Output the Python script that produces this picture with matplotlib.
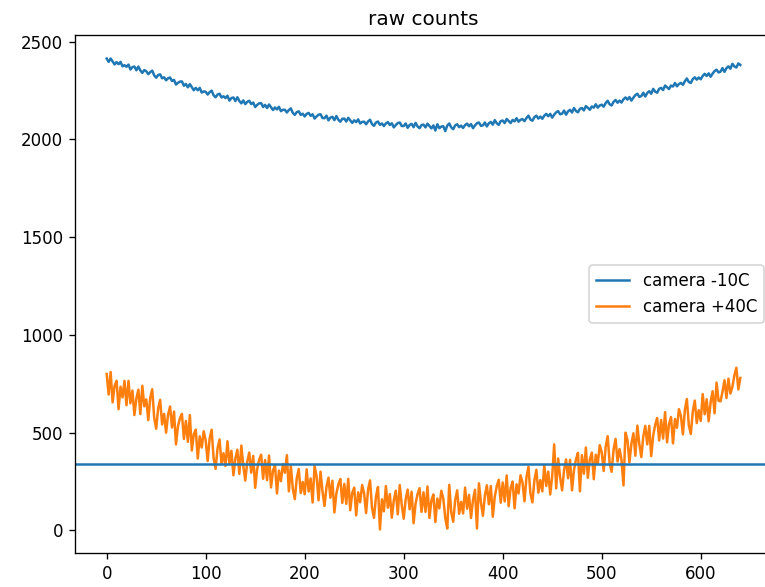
import numpy as np
import matplotlib.pyplot as plt

# pixel index along the sensor, sampled every 2
x = np.arange(0, 641, 2)

cold = [2413, 2396, 2413, 2398, 2383, 2395, 2384, 2396, 2373, 2379,
        2371, 2382, 2357, 2369, 2372, 2353, 2372, 2352, 2340, 2354,
        2348, 2333, 2344, 2351, 2327, 2315, 2329, 2332, 2312, 2317,
        2302, 2312, 2316, 2298, 2304, 2280, 2289, 2295, 2296, 2274,
        2283, 2266, 2282, 2267, 2251, 2263, 2251, 2263, 2239, 2245,
        2243, 2229, 2241, 2249, 2225, 2215, 2229, 2233, 2214, 2220,
        2211, 2223, 2198, 2211, 2214, 2196, 2215, 2196, 2184, 2199,
        2180, 2192, 2197, 2180, 2188, 2165, 2176, 2184, 2185, 2165,
        2176, 2160, 2178, 2164, 2150, 2163, 2153, 2166, 2144, 2151,
        2151, 2137, 2150, 2158, 2135, 2125, 2139, 2143, 2125, 2131,
        2117, 2130, 2135, 2120, 2128, 2106, 2117, 2126, 2128, 2109,
        2108, 2121, 2097, 2111, 2115, 2098, 2119, 2100, 2090, 2105,
        2106, 2091, 2110, 2097, 2084, 2097, 2088, 2102, 2081, 2089,
        2090, 2077, 2091, 2100, 2078, 2069, 2086, 2091, 2074, 2081,
        2068, 2081, 2088, 2073, 2082, 2061, 2073, 2083, 2086, 2068,
        2068, 2081, 2059, 2073, 2079, 2062, 2084, 2066, 2057, 2073,
        2075, 2061, 2080, 2068, 2056, 2071, 2045, 2077, 2057, 2065,
        2067, 2042, 2070, 2081, 2061, 2052, 2071, 2077, 2062, 2070,
        2058, 2073, 2080, 2067, 2078, 2057, 2071, 2082, 2086, 2069,
        2071, 2086, 2066, 2082, 2089, 2075, 2098, 2082, 2074, 2093,
        2096, 2083, 2104, 2094, 2083, 2099, 2092, 2108, 2090, 2100,
        2103, 2093, 2109, 2121, 2101, 2095, 2113, 2121, 2106, 2116,
        2105, 2121, 2130, 2118, 2130, 2111, 2126, 2138, 2144, 2128,
        2131, 2147, 2126, 2143, 2151, 2137, 2160, 2145, 2138, 2156,
        2160, 2148, 2170, 2161, 2151, 2168, 2162, 2179, 2162, 2173,
        2177, 2167, 2185, 2197, 2179, 2173, 2192, 2201, 2187, 2198,
        2188, 2205, 2214, 2203, 2216, 2198, 2213, 2226, 2233, 2217,
        2221, 2238, 2219, 2237, 2246, 2233, 2258, 2244, 2238, 2258,
        2263, 2252, 2275, 2266, 2257, 2275, 2270, 2288, 2271, 2283,
        2288, 2279, 2297, 2311, 2293, 2288, 2308, 2317, 2305, 2316,
        2307, 2324, 2335, 2324, 2337, 2320, 2336, 2349, 2356, 2342,
        2346, 2364, 2345, 2364, 2373, 2361, 2386, 2373, 2367, 2388,
        2380]

hot = [800, 695, 810, 655, 740, 765, 620, 735, 680, 765,
       640, 765, 650, 715, 590, 675, 720, 595, 740, 635,
       670, 564, 678, 722, 576, 520, 624, 668, 542, 596,
       500, 592, 634, 526, 608, 440, 532, 574, 596, 468,
       560, 453, 590, 409, 492, 515, 368, 481, 424, 507,
       460, 355, 470, 515, 370, 315, 420, 465, 340, 395,
       330, 456, 341, 407, 282, 368, 413, 289, 434, 330,
       255, 352, 398, 295, 381, 218, 314, 361, 387, 264,
       360, 257, 383, 220, 306, 333, 189, 306, 252, 339,
       295, 385, 200, 330, 213, 160, 267, 314, 191, 248,
       185, 312, 199, 266, 143, 330, 277, 154, 301, 198,
       125, 222, 270, 167, 254, 92, 189, 236, 263, 141,
       238, 136, 264, 103, 191, 219, 77, 195, 144, 232,
       190, 89, 208, 256, 115, 64, 173, 222, 5, 159,
       98, 227, 116, 186, 65, 154, 203, 82, 232, 131,
       60, 159, 209, 108, 198, 37, 137, 186, 216, 95,
       195, 95, 225, 64, 154, 184, 43, 163, 113, 203,
       163, 63, 10, 233, 94, 44, 155, 205, 85, 146,
       87, 219, 111, 182, 64, 156, 208, 10, 241, 143,
       75, 178, 231, 134, 227, 70, 173, 226, 259, 142,
       245, 148, 281, 124, 217, 250, 113, 236, 189, 282,
       245, 149, 272, 326, 189, 143, 256, 310, 193, 257,
       200, 334, 227, 301, 184, 278, 440, 215, 368, 272,
       205, 309, 363, 267, 361, 205, 309, 363, 397, 200,
       385, 290, 424, 269, 363, 398, 262, 387, 341, 436,
       400, 304, 428, 482, 346, 300, 414, 468, 352, 416,
       360, 230, 500, 464, 348, 443, 497, 382, 536, 441,
       375, 480, 535, 440, 535, 380, 485, 540, 575, 460,
       565, 470, 605, 450, 545, 580, 445, 570, 525, 620,
       585, 491, 616, 672, 537, 493, 608, 664, 549, 615,
       560, 697, 594, 671, 558, 655, 712, 599, 756, 663,
       660, 709, 768, 677, 776, 700, 734, 793, 832, 721,
       780]

threshold = 340

fig = plt.figure(figsize=(765 / 120, 587 / 120), dpi=120)
# axes run slightly past the right edge, as in the cropped original
ax = fig.add_axes([75 / 765, 34 / 587, 697 / 765, 518 / 587])

ax.plot(x, cold, label='camera -10C')
ax.plot(x, hot, label='camera +40C')
ax.legend(loc='center right')
ax.axhline(threshold, color='C0')
ax.set_title('raw counts')
ax.spines['right'].set_visible(False)

fig.savefig('out.png', dpi=120)
